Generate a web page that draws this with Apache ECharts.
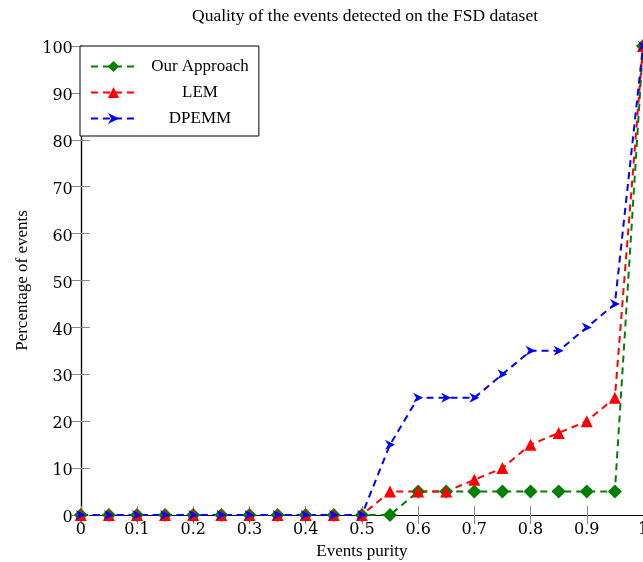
<!DOCTYPE html>
<html>
<head>
<meta charset="utf-8">
<script src="https://cdn.jsdelivr.net/npm/echarts@6/dist/echarts.min.js"></script>
<style>html,body{margin:0;padding:0;background:#fff;}#c{width:643px;height:562px;}</style>
</head>
<body>
<div id="c"></div>
<script>
const purity = [0,0.05,0.1,0.15,0.2,0.25,0.3,0.35,0.4,0.45,0.5,0.55,0.6,0.65,0.7,0.75,0.8,0.85,0.9,0.95,1];
const ourApproach = [0,0,0,0,0,0,0,0,0,0,0,0,5,5,5,5,5,5,5,5,100];
const lem = [0,0,0,0,0,0,0,0,0,0,0,5,5,5,7.5,10,15,17.5,20,25,100];
const dpemm = [0,0,0,0,0,0,0,0,0,0,0,15,25,25,25,30,35,35,40,45,100];
const seriesNames = ['Our Approach','LEM','DPEMM'];
const xTicks = [0,0.1,0.2,0.3,0.4,0.5,0.6,0.7,0.8,0.9,1];

const pair = (ys) => purity.map((x,i)=>[x, ys[i]]);
const font = 'Liberation Serif';
const tickFont = 'DejaVu Serif';
const chart = echarts.init(document.getElementById('c'));
const mk = (name, ys, color, symbol, size) => ({
  name, type:'line', data: pair(ys), symbol, symbolSize: size,
  lineStyle:{color, width:2, type:[7,5]}, itemStyle:{color},
  clip:false, animation:false
});
const tickStyle = {show:true, inside:true, length:9, lineStyle:{color:'#888'}};
const lineStyle = {show:true, lineStyle:{color:'#000', width:1.2}};
chart.setOption({
  animation:false,
  title:{text:'Quality of the events detected on the FSD dataset', left:360, textAlign:'center', top:2,
    textStyle:{fontFamily:font, fontSize:17.5, fontWeight:'normal', color:'#000'}},
  grid:{left:80.75, right:0, top:46, bottom:47, containLabel:false, outerBoundsMode:'none'},
  legend:{left:80, top:46, orient:'vertical', backgroundColor:'#fff', borderColor:'#000', borderWidth:1,
    padding:[12,10,9,10], itemWidth:45, itemHeight:14, itemGap:9,
    data: seriesNames,
    formatter: n => '{c|' + n + '}',
    textStyle:{fontFamily:font, fontSize:17, color:'#000', rich:{c:{width:118, align:'center', fontFamily:font, fontSize:17}}}},
  xAxis:[{type:'value', min:0, max:1, interval:0.1, name:'Events purity', nameLocation:'middle', nameGap:27,
    nameTextStyle:{fontFamily:font, fontSize:17, color:'#000'},
    axisLine:lineStyle, axisTick:tickStyle,
    axisLabel:{fontFamily:tickFont, fontSize:16, color:'#000', margin:7,
      formatter: v => { const t = xTicks.find(x=>Math.abs(x-v)<1e-9); return t===undefined?'':String(t); }},
    splitLine:{show:false}},
    {type:'value', position:'top', min:0, max:1, interval:0.1,
    axisLine:lineStyle, axisTick:tickStyle, axisLabel:{show:false}, splitLine:{show:false}}],
  yAxis:[{type:'value', min:0, max:100, interval:10, name:'Percentage of events', nameLocation:'middle', nameGap:50,
    nameTextStyle:{fontFamily:font, fontSize:17, color:'#000'},
    axisLine:lineStyle, axisTick:tickStyle,
    axisLabel:{fontFamily:tickFont, fontSize:16, color:'#000', margin:8,
      formatter: v => '{a|' + v + '}',
      rich:{a:{fontFamily:tickFont, fontSize:16, color:'#000', padding:[6,0,0,0]}}},
    splitLine:{show:false}},
    {type:'value', position:'right', min:0, max:100, interval:10,
    axisLine:lineStyle, axisTick:tickStyle, axisLabel:{show:false}, splitLine:{show:false}}],
  series:[
    mk(seriesNames[0], ourApproach, '#007f00', 'diamond', 14),
    mk(seriesNames[1], lem, '#ff0000', 'triangle', 12),
    mk(seriesNames[2], dpemm, '#0000ff', 'path://M0,0 L10,5 L0,10 L3,5 Z', 10)
  ]
});
</script>
</body>
</html>
